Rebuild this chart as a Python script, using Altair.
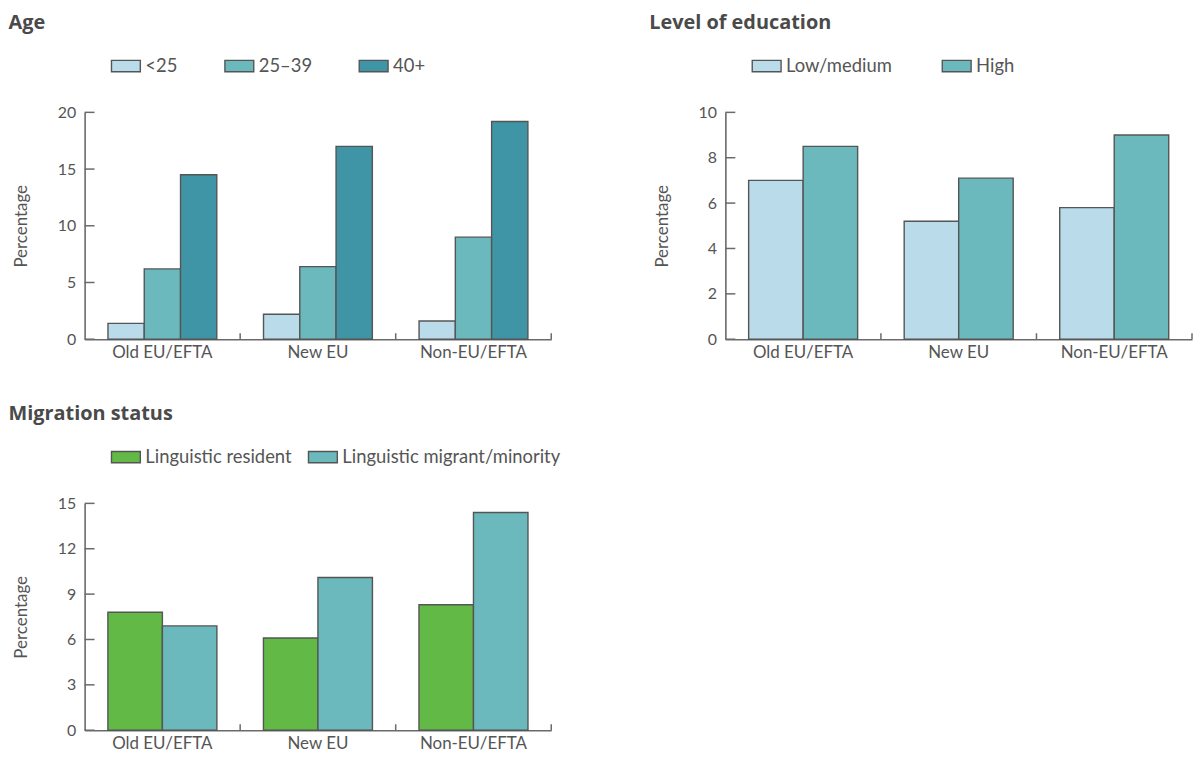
import altair as alt
import pandas as pd

REGIONS = ["Old EU/EFTA", "New EU", "Non-EU/EFTA"]

AGE_GROUPS = ["<25", "25–39", "40+"]
AGE_LT25 = [1.4, 2.2, 1.6]
AGE_25_39 = [6.2, 6.4, 9.0]
AGE_40P = [14.5, 17.0, 19.2]
AGE_COLORS = ["#b9dbea", "#6bb9bd", "#3f95a5"]
AGE_TICKS = [0, 5, 10, 15, 20]

EDU_GROUPS = ["Low/medium", "High"]
EDU_LOW = [7.0, 5.2, 5.8]
EDU_HIGH = [8.5, 7.1, 9.0]
EDU_COLORS = ["#b9dbea", "#6bb9bd"]
EDU_TICKS = [0, 2, 4, 6, 8, 10]

MIG_GROUPS = ["Linguistic resident", "Linguistic migrant/minority"]
MIG_RES = [7.8, 6.1, 8.3]
MIG_MIN = [6.9, 10.1, 14.4]
MIG_COLORS = ["#62b946", "#6bb9bd"]
MIG_TICKS = [0, 3, 6, 9, 12, 15]

FONT = "Lato"
TFONT = "Open Sans"
EDGE = "#555555"
AXIS = "#6a6a6a"
TXT = "#555555"
TITLE = "#4a4a4a"
W, H = 469, 228


def panel(title, groups, series, colors, ticks, offset_pad, col_pad):
    rows = []
    for g, vals in zip(groups, series):
        for r, v in zip(REGIONS, vals):
            rows.append({"region": r, "group": g, "value": v})
    df = pd.DataFrame(rows)

    xscale = alt.Scale(domain=REGIONS, paddingInner=0, paddingOuter=0)
    yscale = alt.Scale(domain=[ticks[0], ticks[-1]], nice=False, zero=True)
    xaxis = alt.Axis(title=None, labelAngle=0, ticks=False, domain=True,
                     labelPadding=5, labelFontSize=17, labelFont=FONT,
                     labelColor=TXT, domainColor=AXIS, domainWidth=1.6)
    yaxis = alt.Axis(title="Percentage", values=ticks, ticks=False, grid=False,
                     labelPadding=9, titlePadding=27, labelFontSize=16,
                     titleFontSize=17, titleFontWeight="normal", titleFont=FONT,
                     labelFont=FONT, labelColor=TXT, titleColor=TXT,
                     domainColor=AXIS, domainWidth=1.6, format="d")

    bars = alt.Chart(df).mark_bar(stroke=EDGE, strokeWidth=1.4, opacity=1).encode(
        x=alt.X("region:N", sort=REGIONS, scale=xscale, axis=xaxis),
        xOffset=alt.XOffset("group:N", sort=groups,
                            scale=alt.Scale(domain=groups, paddingInner=0,
                                            paddingOuter=offset_pad)),
        y=alt.Y("value:Q", scale=yscale, axis=yaxis),
        color=alt.Color("group:N", sort=groups,
                        scale=alt.Scale(domain=groups, range=colors),
                        legend=alt.Legend(
                            title=None, orient="none", legendX=26, legendY=-62,
                            direction="horizontal",
                            symbolType="M-1,-0.393H1V0.393H-1Z", symbolSize=841,
                            symbolStrokeColor=EDGE, symbolStrokeWidth=1.4,
                            symbolOpacity=1, labelFontSize=18.5, labelFont=FONT,
                            labelColor=TXT, labelOffset=4, labelLimit=400,
                            columnPadding=col_pad)),
    )

    tick_df = pd.DataFrame({"value": ticks})
    yticks = alt.Chart(tick_df).mark_rule(color=AXIS, strokeWidth=1.5).encode(
        y=alt.Y("value:Q", scale=yscale, axis=yaxis),
        x=alt.value(0), x2=alt.value(10),
    )
    reg_df = pd.DataFrame({"region": REGIONS})
    xticks = alt.Chart(reg_df).mark_rule(color=AXIS, strokeWidth=1.5).encode(
        x=alt.X("region:N", sort=REGIONS, scale=xscale, axis=xaxis, bandPosition=1),
        y=alt.value(H), y2=alt.value(H - 6),
    )
    return alt.layer(bars, yticks, xticks).properties(
        width=W, height=H,
        title=alt.Title(title, anchor="start", fontSize=20, fontWeight="bold",
                        color=TITLE, font=TFONT, offset=18, dx=-4),
    )


age = panel("Age", AGE_GROUPS, [AGE_LT25, AGE_25_39, AGE_40P], AGE_COLORS,
            AGE_TICKS, 0.644, 44)
edu = panel("Level of education", EDU_GROUPS, [EDU_LOW, EDU_HIGH], EDU_COLORS,
            EDU_TICKS, 0.427, 47)
mig = panel("Migration status", MIG_GROUPS, [MIG_RES, MIG_MIN], MIG_COLORS,
            MIG_TICKS, 0.427, 13)

top = alt.hconcat(age, edu, spacing=97).resolve_scale(
    color="independent", xOffset="independent", y="independent", x="independent"
).resolve_legend(color="independent")

chart = alt.vconcat(top, mig, spacing=44).resolve_scale(
    color="independent", xOffset="independent", y="independent", x="independent"
).resolve_legend(color="independent").configure_view(strokeWidth=0).properties(
    padding={"left": 0, "top": 3, "right": 0, "bottom": 0}
)

chart.save("out.html", embed_options={"renderer": "svg", "actions": False})
